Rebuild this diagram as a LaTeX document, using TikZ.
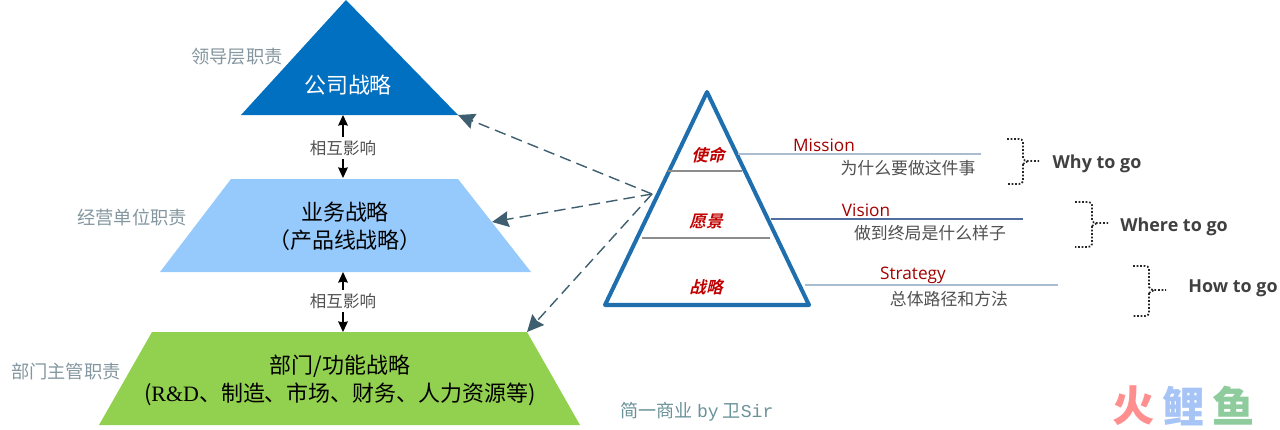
\documentclass[tikz,border=0pt]{standalone}
\usepackage{fontspec}
\usepackage{xcolor}
\usetikzlibrary{positioning, arrows.meta, shapes.geometric}
\setmainfont{Open Sans}
\newfontfamily\cjk{Noto Sans CJK SC}
\newfontfamily\cjkslant[FakeSlant=0.25,BoldFont={Noto Sans CJK SC Bold}]{Noto Sans CJK SC}
\newfontfamily\cjkheavy{Noto Sans CJK SC Black}
\newfontfamily\latinserif{Liberation Serif}
\newfontfamily\latinmono{Liberation Mono}

\definecolor{corpblue}{HTML}{0270C0}
\definecolor{bizblue}{HTML}{97CAFC}
\definecolor{funcgreen}{HTML}{92D050}
\definecolor{pyramidblue}{HTML}{1F6FAE}
\definecolor{dutygray}{HTML}{84969F}
\definecolor{dashslate}{HTML}{3F5F70}
\definecolor{wordred}{HTML}{C00000}
\definecolor{notegray}{HTML}{505050}
\definecolor{leaderpale}{HTML}{AABCD0}
\definecolor{leaderdark}{HTML}{506E9E}

\tikzset{
  bandtext/.style={align=center, text=black, font=\cjk\fontsize{12.5}{16}\selectfont},
  duty/.style={text=dutygray, font=\cjk\fontsize{10.4}{12}\selectfont},
  linktext/.style={text=notegray, font=\cjk\fontsize{9.4}{12}\selectfont, inner sep=1.5pt},
  mutual/.style={<-, >={Stealth[length=6pt,width=5.5pt,inset=0.5pt]}, line width=0.9pt},
  influence/.style={dash pattern=on 6.5pt off 3.5pt, draw=dashslate, line width=0.8pt, ->, >={Stealth[length=9.5pt,width=9pt,inset=1pt]}},
  tier/.style={text=wordred, font=\cjkslant\bfseries\fontsize{9.4}{11}\selectfont},
  word/.style={text=wordred!85!black, font=\fontsize{9.8}{12}\selectfont},
  note/.style={text=notegray, font=\cjk\fontsize{9.6}{12}\selectfont},
  goal/.style={text=black!75, font=\bfseries\fontsize{10.2}{12}\selectfont},
  bracket/.style={densely dotted, line width=1pt, black!85},
  leader/.style={line width=0.7pt},
  logo/.style={font=\cjkheavy\fontsize{24}{26}\selectfont}
}

\begin{document}
\begin{tikzpicture}[x=0.02cm, y=-0.02cm]
\useasboundingbox (0,0) rectangle (1280,429);

% Left pyramid
\coordinate (apex) at (346,0);
\coordinate (corpL) at (241,115);
\coordinate (corpR) at (458,115);
\coordinate (bizTL) at (231,179);
\coordinate (bizTR) at (458,179);
\coordinate (bizBR) at (531,272);
\coordinate (bizBL) at (160,272);
\coordinate (bizE) at (492,222);
\coordinate (funcTL) at (152,332);
\coordinate (funcTR) at (527,332);
\coordinate (funcBR) at (580,425);
\coordinate (funcBL) at (99,425);
\fill[corpblue] (apex) -- (corpR) -- (corpL) -- cycle;
\fill[bizblue] (bizTL) -- (bizTR) -- (bizBR) -- (bizBL) -- cycle;
\fill[funcgreen] (funcTL) -- (funcTR) -- (funcBR) -- (funcBL) -- cycle;
\node[bandtext, text=white] (corp) at (348,85) {公司战略};
\node[bandtext] (biz) at (345,226) {业务战略\\（产品线战略）};
\node[bandtext] (func) at (340,380) {部门/功能战略\\({\latinserif R\&D}、制造、市场、财务、人力资源等)};

\node[duty] (lead) at (237,57) {领导层职责};
\node[duty] (unit) at (132,218) {经营单位职责};
\node[duty] (dept) at (66,372) {部门主管职责};

% Mutual influence
\coordinate (corpbase) at (343,115);
\coordinate (biztop) at (343,178);
\coordinate (bizbase) at (343,272);
\coordinate (functop) at (343,332);
\node[linktext] (linkA) at (343,148) {相互影响};
\node[linktext] (linkB) at (343,301) {相互影响};
\draw[mutual] (corpbase) -- (linkA);
\draw[mutual] (biztop) -- (linkA);
\draw[mutual] (bizbase) -- (linkB);
\draw[mutual] (functop) -- (linkB);

% Right pyramid
\coordinate (top) at (707,92);
\coordinate (baseL) at (605,305);
\coordinate (baseR) at (809,305);
\draw[pyramidblue, line width=2.3pt, line join=round] (top) -- (baseR) -- (baseL) -- cycle;
\coordinate (sepAL) at (668,171);
\coordinate (sepAR) at (742,171);
\coordinate (sepBL) at (642,238);
\coordinate (sepBR) at (770,238);
\draw[leader, black!45] (sepAL) -- (sepAR);
\draw[leader, black!45] (sepBL) -- (sepBR);
\node[tier] (mission) at (708,155) {使命};
\node[tier] (vision) at (706,222) {愿景};
\node[tier] (strategy) at (706,287) {战略};

% Influence arrows
\coordinate (src) at (652,194);
\draw[influence] (src) -- (corpR);
\draw[influence] (src) -- (bizE);
\draw[influence] (src) -- (funcTR);

% Leaders
\coordinate (missionL) at (738,154);
\coordinate (missionR) at (981,154);
\coordinate (visionL) at (771,219);
\coordinate (visionR) at (1023,219);
\coordinate (strategyL) at (805,285);
\coordinate (strategyR) at (1058,285);
\draw[leader, leaderpale] (missionL) -- (missionR);
\draw[leader, leaderdark] (visionL) -- (visionR);
\draw[leader, leaderpale] (strategyL) -- (strategyR);

\node[word] (missionword) at (824,145) {Mission};
\node[word] (visionword) at (866,210) {Vision};
\node[word] (strategyword) at (913,275) {Strategy};
\node[note] (whynote) at (908,168) {为什么要做这件事};
\node[note] (wherenote) at (930,233) {做到终局是什么样子};
\node[note] (hownote) at (949,299) {总体路径和方法};

% Brackets
\coordinate (whyA) at (1007,139);
\coordinate (whyB) at (1023,142);
\coordinate (whyC) at (1023,158);
\coordinate (whyD) at (1039,161);
\coordinate (whyE) at (1023,164);
\coordinate (whyF) at (1023,181);
\coordinate (whyG) at (1007,184);
\draw[bracket] (whyA) -- (1019,139) to[out=0,in=90] (whyB) -- (whyC) to[out=270,in=180] (1028,161) -- (whyD);
\draw[bracket] (whyE) -- (whyF) to[out=270,in=0] (1019,184) -- (whyG);
\draw[bracket] (whyE) -- (1028,161);
\coordinate (whereA) at (1075,202);
\coordinate (whereB) at (1092,205);
\coordinate (whereC) at (1092,220);
\coordinate (whereD) at (1108,223);
\coordinate (whereE) at (1092,226);
\coordinate (whereF) at (1092,244);
\coordinate (whereG) at (1075,247);
\draw[bracket] (whereA) -- (1088,202) to[out=0,in=90] (whereB) -- (whereC) to[out=270,in=180] (1097,223) -- (whereD);
\draw[bracket] (whereE) -- (whereF) to[out=270,in=0] (1088,247) -- (whereG);
\draw[bracket] (whereE) -- (1097,223);
\coordinate (howA) at (1133,266);
\coordinate (howB) at (1149,269);
\coordinate (howC) at (1149,287);
\coordinate (howD) at (1166,290);
\coordinate (howE) at (1149,293);
\coordinate (howF) at (1149,313);
\coordinate (howG) at (1133,316);
\draw[bracket] (howA) -- (1145,266) to[out=0,in=90] (howB) -- (howC) to[out=270,in=180] (1154,290) -- (howD);
\draw[bracket] (howE) -- (howF) to[out=270,in=0] (1145,316) -- (howG);
\draw[bracket] (howE) -- (1154,290);

\node[goal] (why) at (1097,164) {Why to go};
\node[goal] (where) at (1174,227) {Where to go};
\node[goal] (how) at (1233,288) {How to go};

% Credit and mark
\node[text=dutygray!80!teal, font=\cjk\fontsize{10.3}{12}\selectfont] (credit) at (697,412) {简一商业 {\latinmono by} 卫{\latinmono Sir}};
\node[logo, text={rgb,255:red,255;green,143;blue,143}] (huo) at (1134,406) {火};
\node[logo, text={rgb,255:red,166;green,196;blue,245}] (li) at (1184,406) {鲤};
\node[logo, text={rgb,255:red,142;green,204;blue,158}] (yu) at (1234,406) {鱼};

\end{tikzpicture}
\end{document}
